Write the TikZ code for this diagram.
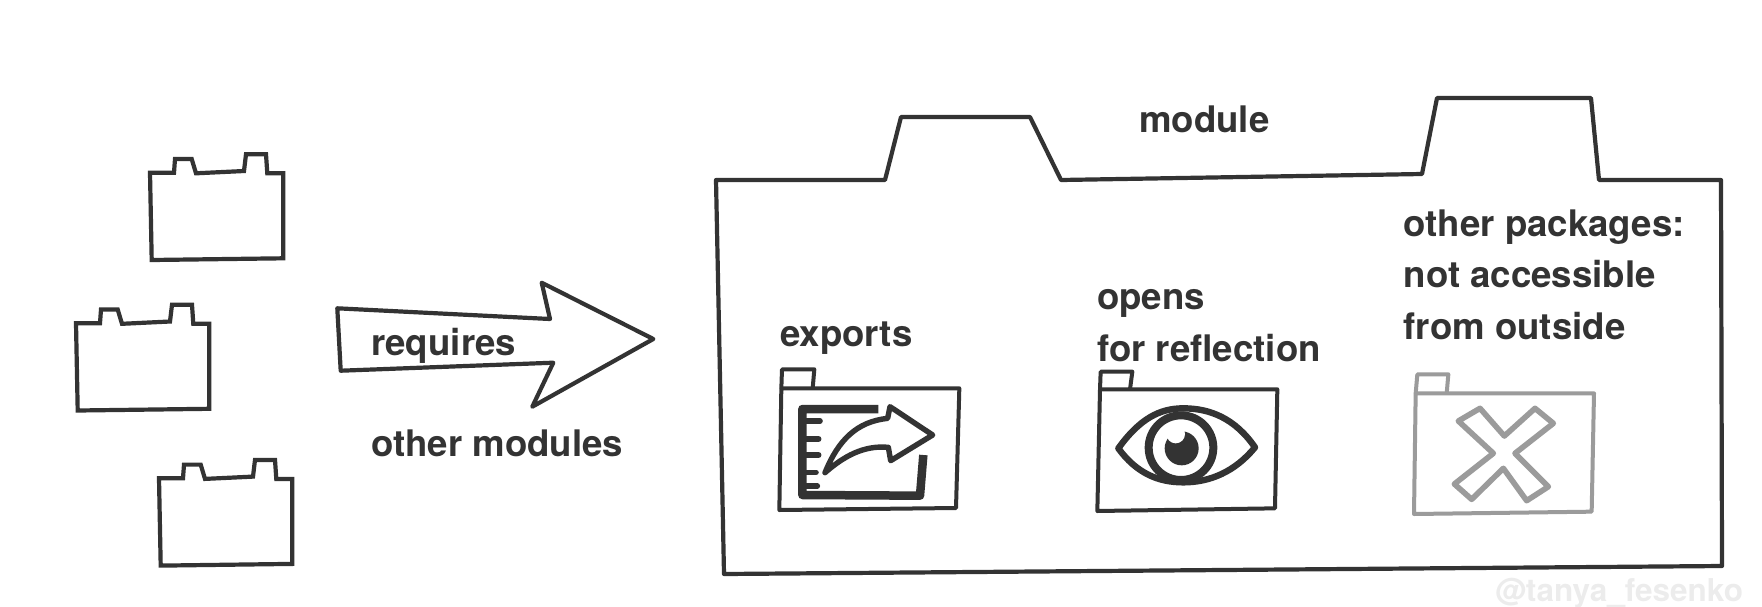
\documentclass[tikz,border=0pt]{standalone}
\usepackage{fontspec}
\setmainfont{TeX Gyre Heros}
\definecolor{ink}{HTML}{333333}
\definecolor{faded}{HTML}{9B9B9B}
\definecolor{wm}{HTML}{ECECEC}
\tikzset{
  outline/.style={draw=ink,line width=4.2pt,line join=round,fill=white},
  folder/.style={draw=ink,line width=4pt,line join=round},
  label/.style={anchor=base west,inner sep=0pt,text=ink,font=\bfseries\fontsize{36.6}{40}\selectfont},
  iconline/.style={draw=ink,line cap=round,line join=round},
  smallmod/.pic={
    \path[outline,line join=miter] (150,172.7) -- (174,172.7) -- (175,159) -- (191.7,159) -- (196,173.3) -- (244,171) -- (246,154.3) -- (266,154.3) -- (267.3,173.3) -- (283.3,173.3) -- (283.3,258.3) -- (151.7,260) -- cycle;
  }
}
\begin{document}
\begin{tikzpicture}[x=1pt,y=-1pt]
\useasboundingbox (0,0) rectangle (1762,606);
% small modules
\pic at (0,0) {smallmod};
\pic at (-74,150.5) {smallmod};
\pic at (9,305.6) {smallmod};
% block arrow
\path[outline] (337.3,308.3) -- (550,319) -- (541.7,282.7) -- (653.3,339) -- (532.3,406.7) -- (553.3,362.7) -- (340.7,370.7) -- cycle;
\node[label] (requires) at (371,355.5) {requires};
\node[label] (others) at (371,456) {other modules};
% module
\path[outline] (716,180) -- (885,180) -- (901,117) -- (1030,117) -- (1061,180) -- (1422,174) -- (1437,98) -- (1591,98) -- (1599,180) -- (1721,180) -- (1722,566) -- (724,574) -- cycle;
\node[label] (module) at (1139,132.5) {module};
\node[label] (exports) at (780,346) {exports};
\node[label] (opens) at (1097,309) {opens};
\node[label] (reflection) at (1097,361.5) {for reflection};
\node[label] (otherp) at (1403.5,236) {other packages:};
\node[label] (notacc) at (1403.5,287) {not accessible};
\node[label] (fromout) at (1403.5,339) {from outside};
% exports folder
\begin{scope}[shift={(760,350)},scale=0.33333]
  \path[folder] (64,115) -- (66,58) -- (163,58) -- (158,115);
  \path[folder] (64,115) -- (598,115) -- (588,474) -- (58,480) -- cycle;
  \path[iconline,line width=8.5pt,line cap=butt] (355,177) -- (127,177) -- (127,435) -- (480,437) -- (490,315);
  \path[iconline,line width=5.6pt] (140,213) -- (180,213) (140,267) -- (176,267) (140,315) -- (176,315) (140,367) -- (168,367) (140,408) -- (172,408);
  \path[iconline,line width=5.4pt] (195,368) .. controls (235,270) and (290,215) .. (383,205) -- (390,170) -- (518,255) -- (392,332) -- (385,292) .. controls (310,285) and (250,320) .. (195,368) -- cycle;
\end{scope}
% opens folder
\begin{scope}[shift={(1080,350)},scale=0.33333]
  \path[folder] (60,118) -- (62,65) -- (157,65) -- (150,118);
  \path[folder] (60,118) -- (592,118) -- (585,475) -- (52,483) -- cycle;
  \path[iconline,line width=6.4pt] (115,295) .. controls (180,205) and (240,175) .. (310,175) .. controls (390,175) and (465,205) .. (525,292) .. controls (465,365) and (390,397) .. (310,397) .. controls (235,397) and (170,370) .. (115,295) -- cycle;
  \path[iconline,line width=8pt] (303,293) circle (97);
  \fill[ink] (305,295) circle (51);
  \fill[white] (287,252) circle (28);
\end{scope}
% hidden folder
\begin{scope}[shift={(1400,360)},scale=0.33333]
  \path[folder,draw=faded] (47,100) -- (52,43) -- (145,43) -- (140,100);
  \path[folder,draw=faded] (47,100) -- (582,100) -- (575,455) -- (42,462) -- cycle;
  \path[iconline,draw=faded,line width=5.6pt] (240,145) -- (313,228) -- (405,145) -- (460,190) -- (345,280) -- (445,380) -- (380,422) -- (310,325) -- (215,418) -- (163,372) -- (280,280) -- (175,183) -- cycle;
\end{scope}
\node[anchor=base west,inner sep=0pt,text=wm,font=\bfseries\fontsize{31.5}{36}\selectfont] (mark) at (1495,601) {@tanya\_fesenko};
\end{tikzpicture}
\end{document}
